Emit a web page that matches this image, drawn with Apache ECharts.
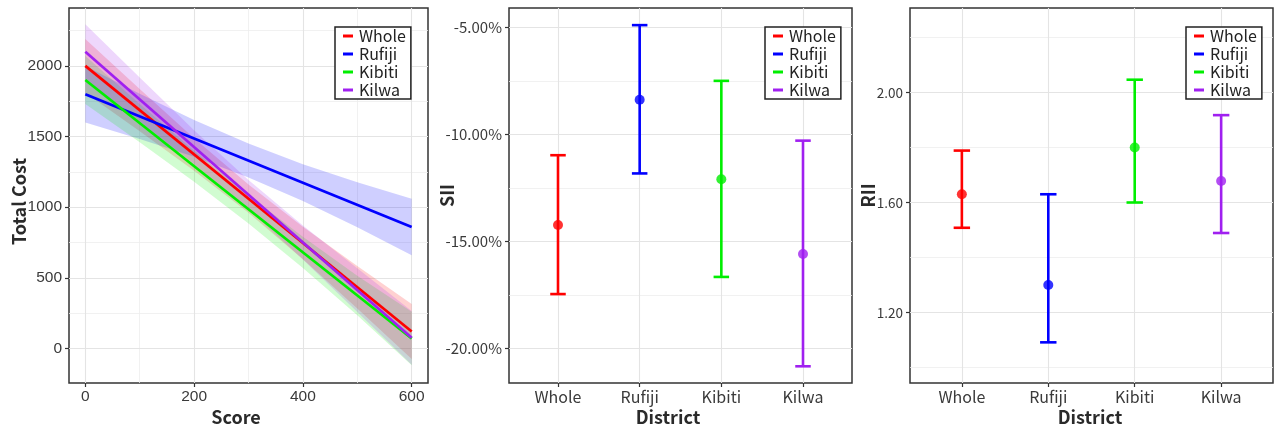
<!DOCTYPE html>
<html>
<head>
<meta charset="utf-8">
<script src="https://cdn.jsdelivr.net/npm/echarts@6/dist/echarts.min.js"></script>
<style>
html,body{margin:0;padding:0;background:#fff;}
#chart{width:1274px;height:431px;}
</style>
</head>
<body>
<div id="chart"></div>
<script>
// ---------- data ----------
const districts = ['Whole', 'Rufiji', 'Kibiti', 'Kilwa'];
const districtColors = ['#FF0000', '#0000FF', '#00EE00', '#A020F0'];

// Panel 1: fitted Total Cost vs Score with confidence ribbons
const scoreX = [0, 100, 200, 300, 400, 500, 600];
const fitWhole  = [2000, 1687, 1373, 1060, 747, 433, 120];
const fitRufiji = [1800, 1643, 1487, 1330, 1173, 1017, 860];
const fitKibiti = [1900, 1595, 1290, 985, 680, 375, 70];
const fitKilwa  = [2100, 1763, 1425, 1088, 750, 413, 75];
const lowWhole  = [1810, 1537, 1258, 960, 632, 283, -75];
const highWhole = [2190, 1837, 1488, 1160, 862, 583, 315];
const lowRufiji  = [1600, 1483, 1357, 1210, 1043, 857, 660];
const highRufiji = [2000, 1803, 1617, 1450, 1303, 1177, 1060];
const lowKibiti  = [1730, 1460, 1180, 885, 570, 235, -120];
const highKibiti = [2070, 1730, 1400, 1085, 790, 515, 260];
const lowKilwa  = [1905, 1608, 1305, 983, 630, 258, -115];
const highKilwa = [2295, 1918, 1545, 1193, 870, 568, 265];
const costTicks = [0, 500, 1000, 1500, 2000];
const costMinor = [250, 750, 1250, 1750, 2250];
const scoreTicks = [0, 200, 400, 600];
const scoreMinor = [100, 300, 500];

// Panel 2: SII (%) with 95% CI
const siiValue = [-14.23, -8.38, -12.09, -15.58];
const siiLow   = [-17.45, -11.82, -16.65, -20.82];
const siiHigh  = [-10.97, -4.90, -7.50, -10.29];
const siiTicks = [-20, -15, -10, -5];
const siiMinor = [-17.5, -12.5, -7.5];

// Panel 3: RII with 95% CI
const riiValue = [1.63, 1.30, 1.80, 1.678];
const riiLow   = [1.508, 1.091, 1.60, 1.489];
const riiHigh  = [1.789, 1.63, 2.047, 1.918];
const riiTicks = [1.2, 1.6, 2.0];
const riiMinor = [1.0, 1.4, 1.8, 2.2];

const catPos = [1, 2, 3, 4];

// ---------- helpers ----------
const FONT = '"Noto Sans CJK SC", "Noto Sans", sans-serif';
const gridMajor = {color: '#E4E4E4', width: 1.1, type: 'solid'};
const gridMinor = {color: '#EDEDED', width: 0.8, type: 'solid'};

function gridLines(xMajor, xMinor, yMajor, yMinor) {
  const d = [];
  xMinor.forEach(v => d.push({xAxis: v, lineStyle: gridMinor}));
  yMinor.forEach(v => d.push({yAxis: v, lineStyle: gridMinor}));
  xMajor.forEach(v => d.push({xAxis: v, lineStyle: gridMajor}));
  yMajor.forEach(v => d.push({yAxis: v, lineStyle: gridMajor}));
  return {silent: true, symbol: 'none', z: 1, animation: false,
          label: {show: false}, emphasis: {disabled: true}, data: d};
}

function gridBox(left, width) {
  return {left: left, top: 8, width: width, height: 375, show: true,
          borderColor: '#333', borderWidth: 1.5, backgroundColor: '#fff', containLabel: false};
}

function valueAxis(idx, min, max, ticks, fmt, name, gap, isX, lab, namePad) {
  return {
    type: 'value', gridIndex: idx, min: min, max: max,
    name: name, nameLocation: 'middle', nameGap: gap, nameMoveOverlap: false,
    nameTextStyle: {fontFamily: FONT, fontSize: 18, fontWeight: 'bold', color: '#2a2a2a',
                    padding: namePad || 0},
    axisLine: {show: false, onZero: false},
    axisTick: {show: true, length: 4, customValues: ticks, lineStyle: {color: '#333', width: 1.2}},
    axisLabel: Object.assign({show: true, customValues: ticks, formatter: fmt, margin: isX ? 6 : 7,
                fontFamily: FONT, fontSize: 15, color: '#3a3a3a'}, lab || {}),
    splitLine: {show: false}, minorSplitLine: {show: false}
  };
}

function errorBar(params, api) {
  const x = api.value(0), lo = api.value(1), hi = api.value(2);
  const a = api.coord([x, lo]), b = api.coord([x, hi]);
  const hw = api.size([0.19, 0])[0] / 2;
  const st = {stroke: api.visual('color'), lineWidth: 2.6, fill: null};
  return {type: 'group', children: [
    {type: 'line', shape: {x1: a[0], y1: a[1], x2: b[0], y2: b[1]}, style: st},
    {type: 'line', shape: {x1: a[0] - hw, y1: a[1], x2: a[0] + hw, y2: a[1]}, style: st},
    {type: 'line', shape: {x1: b[0] - hw, y1: b[1], x2: b[0] + hw, y2: b[1]}, style: st}
  ]};
}

function hexA(hex, a) {
  const n = parseInt(hex.slice(1), 16);
  return 'rgba(' + ((n >> 16) & 255) + ',' + ((n >> 8) & 255) + ',' + (n & 255) + ',' + a + ')';
}

// ---------- series ----------
const fits = [fitWhole, fitRufiji, fitKibiti, fitKilwa];
const lows = [lowWhole, lowRufiji, lowKibiti, lowKilwa];
const highs = [highWhole, highRufiji, highKibiti, highKilwa];
const series = [];

districts.forEach((d, i) => {
  const rows = scoreX.map((x, k) => [x, lows[i][k], highs[i][k]]);
  const fill = hexA(districtColors[i], i === 1 ? 0.19 : 0.18);
  series.push({
    type: 'custom', name: d + ' band', xAxisIndex: 0, yAxisIndex: 0, silent: true,
    encode: {x: 0, y: [1, 2]}, data: rows, z: 2,
    renderItem: function (params, api) {
      if (params.dataIndex !== 0) return null;
      const upper = rows.map(r => api.coord([r[0], r[2]]));
      const lower = rows.map(r => api.coord([r[0], r[1]])).reverse();
      return {type: 'polygon', shape: {points: upper.concat(lower)},
              style: {fill: fill, stroke: null}};
    }
  });
});
districts.forEach((d, i) => {
  const s = {
    type: 'line', name: d, xAxisIndex: 0, yAxisIndex: 0,
    data: [[scoreX[0], fits[i][0]], [scoreX[6], fits[i][6]]],
    showSymbol: false, color: districtColors[i],
    lineStyle: {color: districtColors[i], width: 2.7}, z: 4
  };
  if (i === 0) s.markLine = gridLines(scoreTicks, scoreMinor, costTicks, costMinor);
  series.push(s);
});

function ciPanel(gi, vals, lo, hi, xMajor, yMajor, yMinor) {
  districts.forEach((d, i) => {
    series.push({
      type: 'custom', name: d, xAxisIndex: gi, yAxisIndex: gi,
      renderItem: errorBar, color: districtColors[i],
      itemStyle: {color: districtColors[i]},
      encode: {x: 0, y: [1, 2]},
      data: [[catPos[i], lo[i], hi[i]]], z: 3
    });
    const s = {
      type: 'scatter', name: d, xAxisIndex: gi, yAxisIndex: gi,
      symbol: 'circle', symbolSize: 10, color: districtColors[i],
      itemStyle: {color: districtColors[i]},
      data: [[catPos[i], vals[i]]], z: 4
    };
    if (i === 0) s.markLine = gridLines(xMajor, [], yMajor, yMinor);
    series.push(s);
  });
}
ciPanel(1, siiValue, siiLow, siiHigh, catPos, siiTicks, siiMinor);
ciPanel(2, riiValue, riiLow, riiHigh, catPos, riiTicks, riiMinor);

function legendAt(left) {
  return {
    data: districts, left: left, top: 27, orient: 'vertical',
    icon: 'rect', itemWidth: 10, itemHeight: 3, itemGap: 0,
    padding: [0, 5, 0, 8], borderColor: '#222', borderWidth: 1.5,
    backgroundColor: '#fff', selectedMode: false,
    textStyle: {fontFamily: FONT, fontSize: 16, color: '#222', lineHeight: 18, padding: [0, 0, 0, 1]}
  };
}

const catFmt = v => districts[Math.round(v) - 1] || '';
const p1Lab = {fontFamily: '"Liberation Sans", Arial, sans-serif', fontSize: 15.5};

const option = {
  animation: false,
  backgroundColor: '#fff',
  grid: [gridBox(69, 359), gridBox(509, 343), gridBox(910, 363)],
  legend: [legendAt(335), legendAt(765), legendAt(1186)],
  xAxis: [
    valueAxis(0, -30, 630, scoreTicks, v => String(v), 'Score', 25, true, p1Lab, [0, 25, 0, 0]),
    valueAxis(1, 0.4, 4.6, catPos, catFmt, 'District', 25, true, {fontSize: 16}, [0, 25, 0, 0]),
    valueAxis(2, 0.4, 4.6, catPos, catFmt, 'District', 25, true, {fontSize: 16}, [0, 3, 0, 0])
  ],
  yAxis: [
    valueAxis(0, -245, 2410, costTicks, v => String(v), 'Total Cost', 41, false, p1Lab, [0, 12, 0, 0]),
    valueAxis(1, -21.6, -4.1, siiTicks, v => v.toFixed(2) + '%', 'SII', 53, false, null, 0),
    valueAxis(2, 0.943, 2.308, riiTicks, v => v.toFixed(2), 'RII', 33, false, {fontSize: 13.5}, 0)
  ],
  series: series
};

const chart = echarts.init(document.getElementById('chart'), null, {renderer: 'canvas'});
chart.setOption(option);
</script>
</body>
</html>
